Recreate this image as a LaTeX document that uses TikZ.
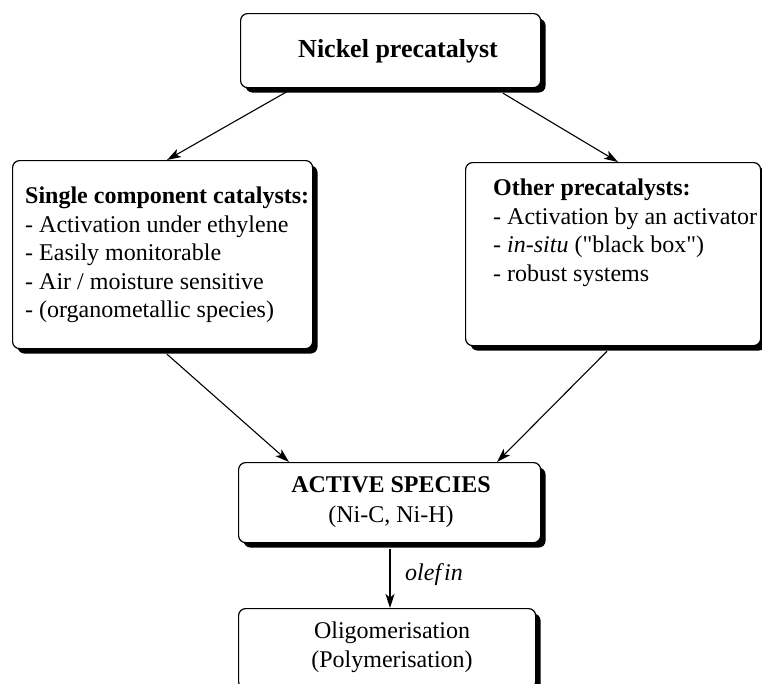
\documentclass[tikz,border=0pt]{standalone}
\usepackage{fontspec}
\setmainfont{Liberation Serif}
\newfontfamily\rawserif{Liberation Serif}
\usetikzlibrary{arrows.meta,shadows,calc}
\begin{document}
\begin{tikzpicture}[x=1pt,y=-1pt,
  box/.style={draw, line width=1.2pt, rounded corners=7pt, fill=white,
    drop shadow={shadow xshift=5pt, shadow yshift=-5pt, fill=black, opacity=1},
    inner sep=0pt, anchor=north west},
  arr/.style={line width=1.1pt, -{Stealth[length=14pt,width=9pt,inset=3.5pt]}},
  txt/.style={font=\fontsize{24}{28.4}\selectfont, inner sep=0pt},
]
\useasboundingbox (0,0) rectangle (762,683);
% boxes
\node[box, minimum width=300pt, minimum height=74pt] (nickel) at (240,13) {};
\node[box, minimum width=300pt, minimum height=188pt] (single) at (12,160) {};
\node[box, minimum width=295pt, minimum height=183pt] (other) at (465,162) {};
\node[box, minimum width=302pt, minimum height=80pt] (active) at (238,462) {};
\node[box, minimum width=297pt, minimum height=80pt] (oligo) at (238,608) {};
% texts
\node[txt, font=\fontsize{26}{30}\selectfont\bfseries, anchor=base] (tnickel) at (398,57) {Nickel precatalyst};
\node[txt, anchor=north west, align=left] (tsingle) at (25,187) {\textbf{Single component catalysts:}\\
- Activation under ethylene\\
- Easily monitorable\\
- Air / moisture sensitive\\
- (organometallic species)};
\node[txt, anchor=north west, align=left] (tother) at (493,179) {\textbf{Other precatalysts:}\\
- Activation by an activator\\
- \textit{in-situ} ({\rawserif "}black box{\rawserif "})\\
- robust systems};
\node[txt, anchor=base] (tactive1) at (391,492) {\textbf{ACTIVE SPECIES}};
\node[txt, anchor=base] (tactive2) at (391,522) {(Ni-C, Ni-H)};
\node[txt, anchor=base] (toligo1) at (392,638) {Oligomerisation};
\node[txt, anchor=base] (toligo2) at (392,667) {(Polymerisation)};
% arrows
\draw[arr] ($(nickel.south west)+(53,0)$) -- ($(single.north west)+(155,0)$);
\draw[arr] ($(nickel.south west)+(263,5)$) -- ($(other.north west)+(153,0)$);
\draw[arr] ($(single.south west)+(155,5)$) -- ($(active.north west)+(51,0)$);
\draw[arr] ($(other.south west)+(142,5)$) -- ($(active.north west)+(259,0)$);
\coordinate (vstart) at ($(active.south west)+(152,6)$);
\draw[arr, line width=1.6pt] (vstart) -- (vstart |- oligo.north);
\node[txt, font=\fontsize{24}{28}\selectfont\itshape, anchor=base west] (tolefin) at (405,580) {olef\kern3pt in};
\end{tikzpicture}
\end{document}
